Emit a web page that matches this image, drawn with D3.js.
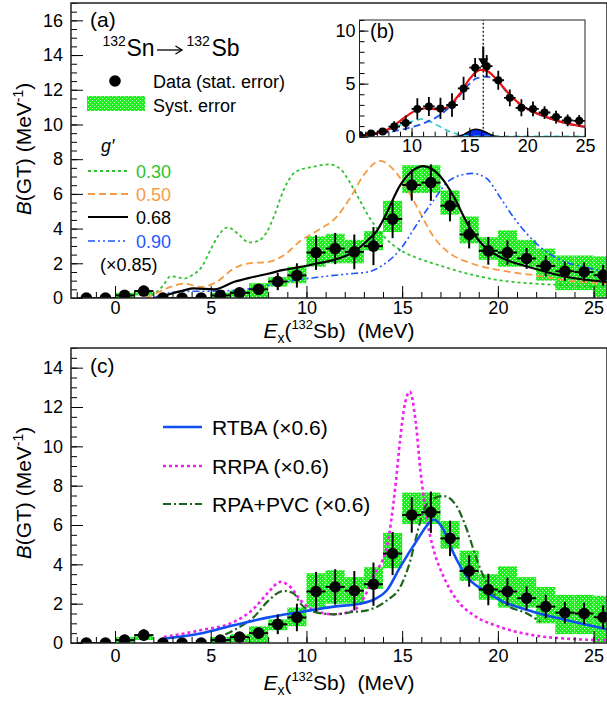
<!DOCTYPE html>
<html lang="en">
<head>
<meta charset="utf-8" />
<title>B(GT) 132Sn</title>
<script src="https://d3js.org/d3.v7.min.js"></script>
<style>
  body { margin: 0; background: #fff; }
  svg text { font-family: "Liberation Sans", Arial, Helvetica, sans-serif; }
</style>
</head>
<body>
<svg width="607" height="702"></svg>
<script>
// ---- data ----
var ex      = [-1.5, -0.5, 0.5, 1.5, 2.5, 3.5, 4.5, 5.5, 6.5, 7.5, 8.5, 9.5, 10.5, 11.5, 12.5, 13.5, 14.5, 15.5, 16.5, 17.5, 18.5, 19.5, 20.5, 21.5, 22.5, 23.5, 24.5, 25.5];
var bgt     = [0, 0, 0.15, 0.4, 0, 0, 0, 0.15, 0.3, 0.5, 0.95, 1.3, 2.62, 2.85, 2.66, 2.99, 4.55, 6.51, 6.65, 5.32, 3.66, 2.72, 2.62, 2.28, 1.85, 1.54, 1.5, 1.31];
var statErr = [0, 0, 0.2, 0.3, 0, 0, 0, 0.15, 0.25, 0.3, 0.5, 0.7, 1.0, 0.9, 1.0, 1.1, 1.1, 0.9, 1.05, 0.9, 0.8, 0.8, 0.7, 0.6, 0.6, 0.55, 0.55, 0.6];
var sysLo   = [0, 0, 0, 0.15, 0, 0, 0, 0, 0.05, 0, 0.65, 0.85, 1.8, 2.0, 2.0, 2.75, 3.8, 6.05, 6.05, 4.8, 3.15, 2.2, 1.8, 1.8, 1.0, 0.45, 0.45, 0.05];
var sysHi   = [0, 0, 0.3, 0.45, 0, 0, 0, 0.3, 0.45, 0.85, 1.2, 1.8, 3.55, 3.7, 3.35, 3.85, 5.6, 7.65, 7.65, 6.2, 4.7, 3.5, 3.9, 3.35, 2.85, 2.45, 2.45, 2.4];

// panel (a): g' curves
var g030 = [[1.6,0],[2.0,0.2],[2.5,0.7],[2.9,1.25],[3.3,1.2],[3.6,1.12],[4.0,1.3],[4.5,1.75],[5.0,2.8],[5.4,3.6],[5.9,4.07],[6.4,3.72],[7.0,3.2],[7.5,3.3],[7.9,3.75],[8.3,4.7],[8.8,6.2],[9.3,7.15],[9.7,7.4],[10.3,7.55],[11.2,7.7],[11.8,7.4],[12.3,6.6],[12.8,5.6],[13.2,4.8],[14.0,3.6],[14.9,2.76],[15.8,2.3],[16.6,2.0],[18.4,1.41],[20.1,1.02],[21.9,0.83],[23.6,0.73],[25.8,0.64]];
var g050 = [[1.6,0],[2.2,0.3],[2.9,0.64],[3.6,0.83],[4.5,0.64],[5.3,0.92],[6.2,1.7],[7.0,2.0],[8.0,2.08],[8.8,2.45],[9.7,3.3],[10.6,3.9],[11.6,4.7],[12.3,5.8],[13.0,7.1],[13.85,7.9],[14.7,7.2],[15.3,6.2],[15.8,5.2],[16.65,3.52],[17.5,2.56],[18.4,2.08],[20.1,1.6],[21.9,1.31],[23.6,1.02],[25.8,0.83]];
var g068 = [[2.3,0],[2.8,0.2],[3.6,0.44],[4.1,0.55],[5.2,0.5],[6.2,0.92],[7.1,1.18],[8.0,1.4],[8.8,1.62],[9.7,1.79],[10.6,2.0],[11.4,2.18],[12.6,2.75],[13.2,3.33],[13.7,3.9],[14.1,4.7],[14.9,6.5],[15.6,7.38],[16.1,7.6],[17.0,7.0],[17.7,5.83],[18.4,4.3],[19.3,2.95],[20.1,2.37],[21.9,1.7],[23.6,1.21],[25.8,0.92]];
var g090 = [[2.0,0],[2.5,0.2],[3.6,0.38],[5.3,0.4],[7.1,0.54],[8.8,0.92],[10.6,1.2],[12.3,1.4],[13.2,1.5],[14.0,1.9],[14.9,2.8],[15.8,4.3],[16.65,5.64],[17.5,6.8],[18.65,7.18],[19.4,6.9],[20.1,5.83],[20.8,4.68],[21.5,3.72],[22.2,2.95],[23.3,2.18],[24.5,1.79],[25.8,1.5]];

// panel (b): fit components
var fitTotal = [[5.5,0.08],[7.0,0.32],[8.15,0.79],[9.3,1.73],[10.46,2.52],[11.32,2.68],[12.47,2.55],[13.34,2.99],[14.2,4.09],[15.07,5.51],[15.93,6.29],[16.51,6.2],[17.38,5.35],[18.52,3.93],[19.68,2.83],[20.83,2.2],[21.98,1.73],[23.42,1.26],[25,0.94]];
var fitLow   = [[5.5,0.08],[7.57,0.47],[9.02,1.1],[10.46,1.57],[10.89,1.67],[11.9,1.26],[13.34,0.47],[14.49,0.1],[15.5,0.03],[25,0.03]];
var fitGTR   = [[5.5,0.02],[6.42,0.16],[8.15,0.44],[9.6,0.79],[11.03,1.26],[12.47,2.05],[13.63,3.15],[14.78,4.72],[15.64,5.51],[16.51,5.66],[17.38,5.19],[18.52,3.9],[19.68,2.8],[20.83,2.17],[21.98,1.7],[23.42,1.23],[25,0.91]];
var fitPeak  = [[13.5,0],[14.0,0.05],[14.5,0.2],[15.0,0.5],[15.5,0.7],[16.0,0.62],[16.5,0.38],[17.0,0.14],[17.5,0.03],[18.0,0]];
var gtrCentroid = 16.2;

// panel (c): theory (x0.6)
var rtba   = [[2.55,0.22],[4.46,0.48],[6.2,0.9],[7.95,1.29],[9.69,1.58],[11.43,1.85],[12.8,2.0],[13.5,2.2],[14.2,2.68],[14.9,3.87],[15.78,5.23],[16.39,6.08],[16.65,6.28],[17.17,5.74],[17.69,4.55],[18.39,3.36],[19.26,2.68],[20.13,2.17],[21.87,1.58],[23.61,1.16],[25.8,0.68]];
var rrpa   = [[2.55,0.3],[4.46,0.65],[6.2,1.07],[7.25,1.75],[7.95,2.51],[8.64,3.11],[9.16,2.85],[9.69,2.17],[10.38,1.66],[11.43,1.46],[12.47,1.66],[13.0,2.3],[13.5,3.4],[14.2,4.9],[14.64,7.9],[14.9,10.4],[15.15,12.2],[15.4,12.78],[15.7,11.3],[15.95,8.8],[16.3,6.25],[16.65,4.72],[17.17,3.36],[17.87,2.17],[18.74,1.41],[20.13,0.81],[21.87,0.39],[23.61,0.22],[25.8,0.14]];
var rpapvc = [[5.0,0.1],[6.2,0.65],[7.25,1.32],[7.95,2.09],[8.82,2.65],[9.34,2.51],[9.69,2.0],[10.38,1.58],[11.43,1.46],[12.47,1.58],[13.17,1.66],[14.21,2.17],[14.9,2.85],[15.43,4.21],[15.78,5.57],[16.13,6.76],[16.65,7.35],[17.17,7.47],[17.87,6.92],[18.39,5.74],[18.91,4.21],[19.43,3.02],[20.48,1.92],[21.52,1.5],[22.22,1.07]];

var xTicks = [0, 5, 10, 15, 20, 25];
var gLabels = ["0.30", "0.50", "0.68", "0.90"];
var thLabels = ["RTBA (\u00d70.6)", "RRPA (\u00d70.6)", "RPA+PVC (\u00d70.6)"];

// ---- setup ----
var svg = d3.select("svg");
var FONT = 18;

var defs = svg.append("defs");
var pat = defs.append("pattern").attr("id", "syst").attr("patternUnits", "userSpaceOnUse")
    .attr("width", 4).attr("height", 4);
pat.append("rect").attr("width", 4).attr("height", 4).attr("fill", "#1cf01c");
pat.append("rect").attr("x", 0).attr("y", 0).attr("width", 1).attr("height", 1).attr("fill", "#c8ffc8");
pat.append("rect").attr("x", 2).attr("y", 2).attr("width", 1).attr("height", 1).attr("fill", "#c8ffc8");

function rich(t, parts) {
    parts.forEach(function (p) {
        t.append("tspan").attr("dy", p.dy || 0)
            .attr("font-size", p.fs || null)
            .attr("font-style", p.it ? "italic" : null)
            .text(p.t);
    });
    return t;
}

function range(a, b, s) { return d3.range(a, b + s / 2, s); }

function axes(g, x, y, o) {
    var y0 = y.range()[0], x0 = x.range()[0];
    g.append("g").attr("transform", "translate(0," + y0 + ")")
        .call(d3.axisBottom(x).tickValues(o.xMinor).tickSize(-o.minor).tickFormat(""));
    g.append("g").attr("transform", "translate(0," + y0 + ")")
        .call(d3.axisBottom(x).tickValues(o.xMajor).tickSize(-o.major).tickPadding(o.xpad).tickFormat(d3.format("d")));
    g.append("g").attr("transform", "translate(" + x0 + ",0)")
        .call(d3.axisLeft(y).tickValues(o.yMinor).tickSize(-o.minor).tickFormat(""));
    g.append("g").attr("transform", "translate(" + x0 + ",0)")
        .call(d3.axisLeft(y).tickValues(o.yMajor).tickSize(-o.major).tickPadding(o.ypad).tickFormat(d3.format("d")));
    g.selectAll(".domain").remove();
    g.selectAll(".tick line").attr("stroke", "#000").attr("stroke-width", 1);
    g.selectAll(".tick text").attr("font-size", o.fs).attr("font-family", "Liberation Sans, Arial, sans-serif").attr("fill", "#000");
    g.append("rect")
        .attr("x", x.range()[0]).attr("y", y.range()[1])
        .attr("width", x.range()[1] - x.range()[0]).attr("height", y.range()[0] - y.range()[1])
        .attr("fill", "none").attr("stroke", "#222").attr("stroke-width", o.frame);
}

function clip(id, x, y) {
    defs.append("clipPath").attr("id", id).append("rect")
        .attr("x", x.range()[0]).attr("y", y.range()[1])
        .attr("width", x.range()[1] - x.range()[0]).attr("height", y.range()[0] - y.range()[1]);
}

function drawSyst(g, x, y) {
    g.append("g").selectAll("rect").data(d3.range(ex.length).filter(function (i) { return sysHi[i] > sysLo[i]; }))
        .enter().append("rect")
        .attr("x", function (i) { return x(ex[i] - 0.5); })
        .attr("width", function (i) { return x(ex[i] + 0.5) - x(ex[i] - 0.5); })
        .attr("y", function (i) { return y(sysHi[i]); })
        .attr("height", function (i) { return y(sysLo[i]) - y(sysHi[i]); })
        .attr("fill", "url(#syst)");
}

function drawPoints(g, x, y, r, lw) {
    var pts = g.append("g");
    var idx = d3.range(ex.length);
    pts.selectAll("line.h").data(idx).enter().append("line").attr("class", "h")
        .attr("x1", function (i) { return x(ex[i] - 0.5); })
        .attr("x2", function (i) { return x(ex[i] + 0.5); })
        .attr("y1", function (i) { return y(bgt[i]); })
        .attr("y2", function (i) { return y(bgt[i]); })
        .attr("stroke", "#000").attr("stroke-width", lw);
    pts.selectAll("line.v").data(idx.filter(function (i) { return statErr[i] > 0; })).enter().append("line").attr("class", "v")
        .attr("x1", function (i) { return x(ex[i]); })
        .attr("x2", function (i) { return x(ex[i]); })
        .attr("y1", function (i) { return y(Math.max(0, bgt[i] - statErr[i])); })
        .attr("y2", function (i) { return y(bgt[i] + statErr[i]); })
        .attr("stroke", "#000").attr("stroke-width", lw);
    pts.selectAll("circle").data(idx).enter().append("circle")
        .attr("cx", function (i) { return x(ex[i]); })
        .attr("cy", function (i) { return y(bgt[i]); })
        .attr("r", r).attr("fill", "#000");
}

function curve(g, x, y, pts, color, w, dash) {
    var line = d3.line().x(function (d) { return x(d[0]); }).y(function (d) { return y(d[1]); })
        .curve(d3.curveMonotoneX);
    g.append("path").datum(pts).attr("d", line)
        .attr("fill", "none").attr("stroke", color).attr("stroke-width", w)
        .attr("stroke-dasharray", dash || null);
}

function yTitle(cy) {
    var t = svg.append("text").attr("transform", "translate(31," + cy + ") rotate(-90)")
        .attr("text-anchor", "middle").attr("font-size", 21);
    rich(t, [{ t: "B", it: 1 }, { t: "(GT) (MeV" }, { t: "-1", fs: 14, dy: -8 }, { t: ")", dy: 8 }]);
}

function xTitle(by) {
    var t = svg.append("text").attr("x", 339).attr("y", by)
        .attr("text-anchor", "middle").attr("font-size", 21);
    rich(t, [{ t: "E", it: 1 }, { t: "x", fs: 14, dy: 5 }, { t: "(", dy: -5 }, { t: "132", fs: 13, dy: -9 }, { t: "Sb)\u00a0\u00a0(MeV)", dy: 9 }]);
}

var colG030 = "#2ec42e", colG050 = "#f59a45", colG090 = "#1f56ff";

// ================= panel (a) =================
var xa = d3.scaleLinear().domain([-2.3, 25.7]).range([71, 607]);
var ya = d3.scaleLinear().domain([0, 17]).range([298, 3]);
clip("clipA", xa, ya);
var pa = svg.append("g");
var pac = pa.append("g").attr("clip-path", "url(#clipA)");
drawSyst(pac, xa, ya);
curve(pac, xa, ya, g030, colG030, 1.8, "3,3");
curve(pac, xa, ya, g050, colG050, 1.8, "7,4");
curve(pac, xa, ya, g090, colG090, 1.6, "7,3,2,3,2,3");
curve(pac, xa, ya, g068, "#000", 2.2);
drawPoints(pac, xa, ya, 5.8, 2);
axes(pa, xa, ya, {
    xMajor: xTicks, xMinor: range(-2, 25, 1), yMajor: range(0, 16, 2), yMinor: range(0, 17, 0.5),
    major: 12, minor: 6, xpad: 3, ypad: 8, fs: FONT, frame: 1.5
});

pa.append("text").attr("x", 90).attr("y", 27).attr("font-size", 21).text("(a)");
// reaction label: 132Sn -> 132Sb
pa.append("text").attr("x", 102.5).attr("y", 45.5).attr("font-size", 14).text("132");
pa.append("text").attr("x", 126.5).attr("y", 55.5).attr("font-size", 23).text("Sn");
pa.append("line").attr("x1", 157).attr("x2", 182).attr("y1", 50).attr("y2", 50).attr("stroke", "#000").attr("stroke-width", 1.3);
pa.append("path").attr("d", "M175.5,46L182,50L175.5,54").attr("fill", "none").attr("stroke", "#000").attr("stroke-width", 1.3);
pa.append("text").attr("x", 186.5).attr("y", 45.5).attr("font-size", 14).text("132");
pa.append("text").attr("x", 211.5).attr("y", 55.5).attr("font-size", 23).text("Sb");

pa.append("circle").attr("cx", 115).attr("cy", 81).attr("r", 5.8).attr("fill", "#000");
pa.append("text").attr("x", 153).attr("y", 87.5).attr("font-size", FONT).text("Data (stat. error)");
pa.append("rect").attr("x", 87).attr("y", 96).attr("width", 58).attr("height", 15).attr("fill", "url(#syst)");
pa.append("text").attr("x", 153).attr("y", 111.5).attr("font-size", FONT).text("Syst. error");
pa.append("text").attr("x", 101).attr("y", 152).attr("font-size", FONT).attr("font-style", "italic").text("g\u2032");

var legA = [
    { c: colG030, w: 1.8, d: "3,3" },
    { c: colG050, w: 1.8, d: "7,4" },
    { c: "#000", w: 2.2, d: null },
    { c: colG090, w: 1.6, d: "7,3,2,3,2,3" }
];
var legAY = [171, 194, 217, 241];
legA.forEach(function (l, i) {
    pa.append("line").attr("x1", 88).attr("x2", 128).attr("y1", legAY[i]).attr("y2", legAY[i])
        .attr("stroke", l.c).attr("stroke-width", l.w).attr("stroke-dasharray", l.d);
    pa.append("text").attr("x", 136).attr("y", legAY[i] + 6.5).attr("font-size", FONT)
        .attr("fill", l.c).text(gLabels[i]);
});
pa.append("text").attr("x", 100).attr("y", 271).attr("font-size", FONT).text("(\u00d70.85)");

// ---- inset (b) ----
var xb = d3.scaleLinear().domain([5.5, 25]).range([359.5, 585]);
var yb = d3.scaleLinear().domain([0, 11]).range([136.7, 20]);
clip("clipB", xb, yb);
var pb = svg.append("g");
pb.append("rect").attr("x", 359.5).attr("y", 20).attr("width", 585 - 359.5).attr("height", 116.7).attr("fill", "#fff");
var pbc = pb.append("g").attr("clip-path", "url(#clipB)");
var area = d3.area().x(function (d) { return xb(d[0]); }).y0(yb(0)).y1(function (d) { return yb(d[1]); })
    .curve(d3.curveMonotoneX);
pbc.append("path").datum(fitPeak).attr("d", area).attr("fill", "#0a2cf0");
curve(pbc, xb, yb, fitPeak, "#000", 1.5);
curve(pbc, xb, yb, fitLow, "#2cc8c8", 1.6, "6,4");
curve(pbc, xb, yb, fitGTR, "#2255ee", 1.8, "7,4");
curve(pbc, xb, yb, fitTotal, "#ee1111", 2.2);
drawPoints(pbc, xb, yb, 4, 1.8);
pbc.append("line").attr("x1", xb(gtrCentroid)).attr("x2", xb(gtrCentroid)).attr("y1", yb(0)).attr("y2", yb(11))
    .attr("stroke", "#000").attr("stroke-width", 1.2).attr("stroke-dasharray", "2,2");
pbc.append("line").attr("x1", xb(gtrCentroid)).attr("x2", xb(gtrCentroid)).attr("y1", yb(8.5)).attr("y2", yb(7.3))
    .attr("stroke", "#000").attr("stroke-width", 2);
pbc.append("path")
    .attr("d", "M" + (xb(gtrCentroid) - 5) + "," + yb(7.4) + "L" + (xb(gtrCentroid) + 5) + "," + yb(7.4) + "L" + xb(gtrCentroid) + "," + yb(6.6) + "Z")
    .attr("fill", "#000");
axes(pb, xb, yb, {
    xMajor: [10, 15, 20, 25], xMinor: range(6, 25, 1), yMajor: [0, 5, 10], yMinor: range(0, 11, 1),
    major: 9, minor: 5, xpad: 3, ypad: 4, fs: FONT, frame: 1
});
pb.append("text").attr("x", 370).attr("y", 38).attr("font-size", 20).text("(b)");

yTitle(149);
xTitle(338);

// ================= panel (c) =================
var xc = d3.scaleLinear().domain([-2.3, 25.7]).range([71, 607]);
var yc = d3.scaleLinear().domain([0, 15]).range([643, 348]);
clip("clipC", xc, yc);
var pc = svg.append("g");
var pcc = pc.append("g").attr("clip-path", "url(#clipC)");
drawSyst(pcc, xc, yc);
curve(pcc, xc, yc, rrpa, "#f020f0", 2.6, "3,3");
curve(pcc, xc, yc, rpapvc, "#1e641e", 2.2, "8,3,2,3");
curve(pcc, xc, yc, rtba, "#1050f0", 2.6);
drawPoints(pcc, xc, yc, 5.8, 2);
axes(pc, xc, yc, {
    xMajor: xTicks, xMinor: range(-2, 25, 1), yMajor: range(0, 14, 2), yMinor: range(0, 15, 0.5),
    major: 12, minor: 6, xpad: 6, ypad: 8, fs: FONT, frame: 1.5
});
pc.append("text").attr("x", 90).attr("y", 373).attr("font-size", 21).text("(c)");

var legC = [
    { c: "#1050f0", w: 2.6, d: null },
    { c: "#f020f0", w: 2.6, d: "3,3" },
    { c: "#1e641e", w: 2.2, d: "8,3,2,3" }
];
var legCY = [427, 466, 504];
legC.forEach(function (l, i) {
    pc.append("line").attr("x1", 163).attr("x2", 202).attr("y1", legCY[i]).attr("y2", legCY[i])
        .attr("stroke", l.c).attr("stroke-width", l.w).attr("stroke-dasharray", l.d);
    pc.append("text").attr("x", 212).attr("y", legCY[i] + 7.5).attr("font-size", 21).text(thLabels[i]);
});

yTitle(493);
xTitle(690);
</script>
</body>
</html>
